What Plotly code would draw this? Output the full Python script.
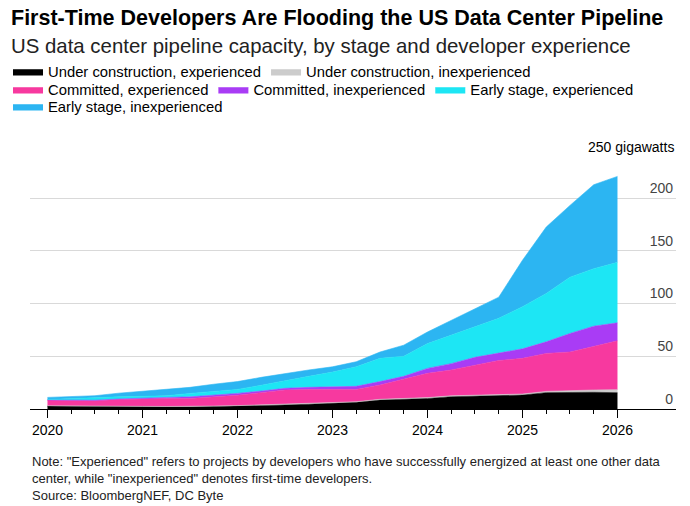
import plotly.graph_objects as go

# quarterly, 2020 Q1 .. 2026 Q1 (GW)
quarters = [2020 + i / 4 for i in range(25)]
uc_exp = [2.8, 2.5, 2.2, 2.2, 2.2, 2.0, 1.9, 2.2, 2.5, 3.0, 3.8, 4.5, 5.4, 6.3, 8.5, 9.0, 10.0, 11.7, 12.3, 12.6, 13.2, 15.5, 16.0, 15.8, 15.5]
uc_inexp = [0.3, 0.3, 0.3, 0.3, 0.3, 0.4, 0.5, 0.6, 0.7, 0.8, 0.9, 0.9, 0.6, 0.6, 0.7, 0.8, 0.8, 0.8, 0.9, 1.0, 1.0, 1.2, 1.5, 2.2, 2.8]
com_exp = [5.4, 5.4, 5.4, 6.5, 7.3, 7.6, 7.6, 8.7, 9.8, 11.7, 13.3, 13.1, 12.6, 11.7, 13.5, 18.2, 23.0, 24.5, 28.4, 32.4, 33.8, 36.0, 36.5, 41.0, 46.4]
com_inexp = [0.0, 0.2, 0.4, 0.5, 0.7, 1.0, 1.5, 1.5, 1.8, 1.5, 1.6, 2.0, 2.4, 2.9, 3.3, 3.0, 4.7, 6.0, 7.4, 7.0, 9.0, 11.0, 17.6, 19.5, 17.0]
early_exp = [0.5, 1.6, 2.7, 2.0, 1.5, 1.5, 3.3, 3.5, 3.8, 5.5, 7.4, 10.5, 14.0, 18.5, 22.0, 19.0, 23.5, 27.0, 29.0, 33.0, 40.0, 45.8, 53.4, 54.5, 57.3]
early_inexp = [2.0, 2.0, 1.6, 3.5, 4.8, 5.5, 5.7, 7.0, 7.4, 7.5, 6.8, 6.0, 5.0, 4.8, 6.0, 10.5, 11.0, 14.0, 17.0, 20.0, 44.0, 63.0, 68.0, 79.6, 81.5]

series = [
    ("Under construction, experienced", uc_exp, "#000000", "legend"),
    ("Under construction, inexperienced", uc_inexp, "#cccccc", "legend"),
    ("Committed, experienced", com_exp, "#f7399f", "legend2"),
    ("Committed, inexperienced", com_inexp, "#a93cf5", "legend2"),
    ("Early stage, experienced", early_exp, "#1de6f4", "legend2"),
    ("Early stage, inexperienced", early_inexp, "#2cb5f2", "legend3"),
]
year_ticks = [2020, 2021, 2022, 2023, 2024, 2025, 2026]
y_ticks = [0, 50, 100, 150, 200]
FONT = "Liberation Sans, Arial, sans-serif"

fig = go.Figure()
for name, vals, col, lg in series:
    fig.add_trace(go.Scatter(
        x=quarters, y=vals, name=name, stackgroup="one", mode="lines",
        line=dict(width=0.6, color=col), fillcolor=col, legend=lg,
    ))

# page has an 8px body margin, so container positions are offset by it
def leg(ypx):
    return dict(orientation="h", x=-0.01, xanchor="left", xref="container",
                y=1 - (ypx - 8) / 506, yref="container", yanchor="middle",
                font=dict(size=14.8), itemwidth=30, traceorder="normal",
                bgcolor="rgba(0,0,0,0)")

fig.update_layout(
    width=690, height=506,
    margin=dict(l=22, r=22, t=132, b=105, autoexpand=False),
    paper_bgcolor="white", plot_bgcolor="white",
    font=dict(family=FONT, color="#000"),
    showlegend=True,
    legend=leg(72), legend2=leg(90), legend3=leg(107),
    xaxis=dict(range=[2019.816, 2026.616], tickvals=year_ticks,
               ticktext=[str(y) for y in year_ticks], ticks="outside",
               ticklen=8, tickcolor="#000", showgrid=False, showline=True,
               linecolor="#000", linewidth=1, tickfont=dict(size=14),
               minor=dict(tickvals=quarters, ticks="outside", ticklen=4,
                          tickcolor="#000", showgrid=False)),
    yaxis=dict(range=[0, 255], tickvals=y_ticks, side="right",
               ticklabelposition="inside", ticklabelshift=-10,
               showgrid=True, gridcolor="#d9d9d9", zeroline=False,
               tickfont=dict(size=14), ticks=""),
)

fig.add_annotation(text="<b>First-Time Developers Are Flooding the US Data Center Pipeline</b>",
                   xref="paper", yref="paper", x=-0.033, y=1.0, xanchor="left", yanchor="middle",
                   yshift=122, showarrow=False, font=dict(size=21.5))
fig.add_annotation(text="US data center pipeline capacity, by stage and developer experience",
                   xref="paper", yref="paper", x=-0.033, y=1.0, xanchor="left", yanchor="middle",
                   yshift=94, showarrow=False, font=dict(size=20.4, color="#222"))
fig.add_annotation(text="250 gigawatts", xref="paper", yref="y", x=1.0, y=250,
                   xanchor="right", yanchor="middle", yshift=-2, showarrow=False,
                   font=dict(size=14))
fig.add_annotation(text="Note: \"Experienced\" refers to projects by developers who have successfully energized at least one other data<br>"
                        "center, while \"inexperienced\" denotes first-time developers.<br>Source: BloombergNEF, DC Byte",
                   xref="paper", yref="paper", x=0.0, y=0, xanchor="left", yanchor="top",
                   yshift=-43, showarrow=False, align="left", font=dict(size=13, color="#222"))

fig.write_html("out.html")
